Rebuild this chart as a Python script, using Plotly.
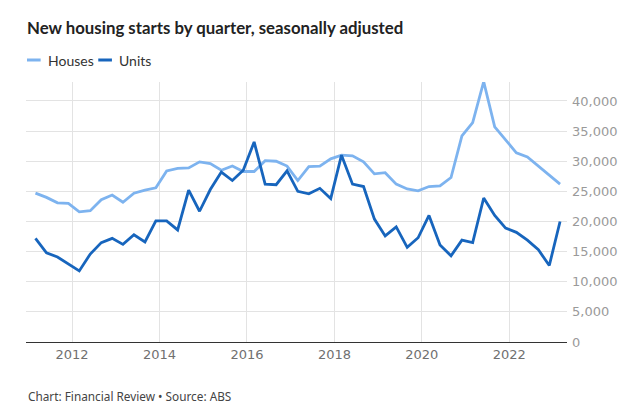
import plotly.graph_objects as go
import pandas as pd

quarters = pd.date_range("2011-03-01", periods=49, freq="3MS")

houses = [24.7, 24.0, 23.1, 23.0, 21.6, 21.8, 23.6, 24.4, 23.2, 24.7, 25.2, 25.6,
          28.4, 28.8, 28.9, 29.9, 29.6, 28.5, 29.2, 28.3, 28.3, 30.1, 30.0, 29.2,
          26.8, 29.1, 29.2, 30.4, 31.0, 30.9, 29.9, 27.9, 28.1, 26.2, 25.4, 25.1,
          25.8, 25.9, 27.3, 34.2, 36.4, 43.2, 35.7, 33.5, 31.4, 30.7, 29.2, 27.7, 26.2]
units = [17.2, 14.8, 14.1, 12.9, 11.8, 14.6, 16.5, 17.2, 16.2, 17.8, 16.6, 20.1,
         20.1, 18.6, 25.2, 21.7, 25.3, 28.2, 26.8, 28.5, 33.2, 26.2, 26.1, 28.4,
         25.0, 24.6, 25.5, 23.8, 31.0, 26.2, 25.8, 20.4, 17.6, 19.1, 15.7, 17.3,
         21.0, 16.1, 14.3, 16.9, 16.5, 23.9, 21.0, 18.9, 18.2, 16.9, 15.3, 12.7, 20.0]

houses = [v * 1000 for v in houses]
units = [v * 1000 for v in units]

series_names = ["Houses", "Units"]
series_colors = ["#7db3ef", "#1765bd"]
title_text = "New housing starts by quarter, seasonally adjusted"
source_text = "Chart: Financial Review \u2022 Source: ABS"
tick_years = ["2012", "2014", "2016", "2018", "2020", "2022"]
y_ticks = [0, 5000, 10000, 15000, 20000, 25000, 30000, 35000, 40000]

W, H = 622, 401
L, R, T, B = 18, 50, 74, 67
PW, PH = W - L - R, H - T - B


def px(x):
    return (x - L) / PW


def py(y):
    return (H - B - y) / PH


fig = go.Figure()
for name, vals, col in zip(series_names, [houses, units], series_colors):
    fig.add_trace(go.Scatter(x=quarters, y=vals, name=name, mode="lines",
                             line=dict(color=col, width=2.8), showlegend=False))

fig.update_layout(
    width=W, height=H,
    margin=dict(l=L, r=R, t=T, b=B),
    paper_bgcolor="white", plot_bgcolor="white",
    font=dict(family="Lato", color="#333"),
    title=dict(text="<b>" + title_text + "</b>", x=19 / W, xanchor="left",
               y=1 - 20 / H, yanchor="middle",
               font=dict(family="Lato", size=16.8, color="#222")),
    hovermode=False,
)
fig.update_xaxes(
    type="date",
    range=["2010-12-12", "2023-04-28"],
    tickvals=[pd.Timestamp(y + "-01-01") for y in tick_years],
    ticktext=tick_years,
    showgrid=True, gridcolor="#e3e3e3", gridwidth=1,
    showline=True, linecolor="#333", linewidth=1.2,
    ticks="", tickfont=dict(family="DejaVu Sans", size=13, color="#707070"),
    zeroline=False,
)
fig.update_yaxes(
    side="right", range=[0, 43150],
    tickvals=y_ticks, ticktext=[f"{v:,}" for v in y_ticks],
    showgrid=True, gridcolor="#e3e3e3", gridwidth=1,
    ticks="", ticklabelstandoff=4,
    tickfont=dict(family="DejaVu Sans", size=13, color="#9a9a9a"),
    zeroline=False, showline=False,
)

# custom legend
legend_items = [(19, 33, 38), (92, 106, 111)]
for (x0, x1, tx), name, col in zip(legend_items, series_names, series_colors):
    fig.add_shape(type="line", xref="paper", yref="paper",
                  x0=px(x0), x1=px(x1), y0=py(52), y1=py(52),
                  line=dict(color=col, width=3))
    fig.add_annotation(text=name, xref="paper", yref="paper", x=px(tx), y=py(52),
                       xanchor="left", yanchor="middle", showarrow=False,
                       font=dict(family="Lato", size=14, color="#333"))

fig.add_annotation(text=source_text, xref="paper", yref="paper",
                   x=px(18), y=py(388), xanchor="left", yanchor="middle",
                   showarrow=False, font=dict(family="Noto Sans", size=11.8, color="#444"))

fig.write_html("out.html")
